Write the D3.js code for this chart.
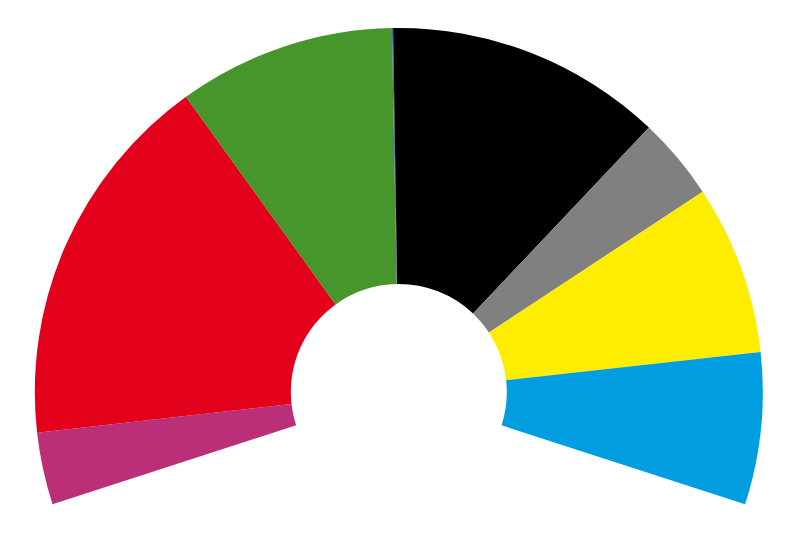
<!DOCTYPE html>
<html>
<head>
<meta charset="utf-8">
<script src="https://cdn.jsdelivr.net/npm/d3@7"></script>
<style>
html,body{margin:0;padding:0;background:#fff;}
svg{display:block;}
</style>
</head>
<body>
<svg id="chart" width="800" height="534"></svg>
<script>
const parties = ["Linke", "SPD", "Grüne", "Sonstige", "CDU", "Andere", "FDP", "AfD"];
const values = [5.33, 28.09, 16.07, 0.09, 20.52, 6.11, 12.55, 11.23];
const colors = ["#BA2F77", "#E2001A", "#46962B", "#3A6EA5", "#000000", "#808080", "#FFED00", "#009EE0"];

const width = 800, height = 534;
const cx = 398.8, cy = 392;
const outerR = 364, innerR = 108;
const halfSpan = 107.95 * Math.PI / 180;

const svg = d3.select("#chart");
const g = svg.append("g").attr("transform", `translate(${cx},${cy})`);

const data = parties.map((p, i) => ({party: p, value: values[i], color: colors[i]}));

const pie = d3.pie()
  .sort(null)
  .value(d => d.value)
  .startAngle(-halfSpan)
  .endAngle(halfSpan);

const arc = d3.arc().innerRadius(innerR).outerRadius(outerR);

g.selectAll("path")
  .data(pie(data))
  .join("path")
  .attr("d", arc)
  .attr("fill", d => d.data.color)
  .append("title").text(d => `${d.data.party}: ${d.data.value}`);
</script>
</body>
</html>
